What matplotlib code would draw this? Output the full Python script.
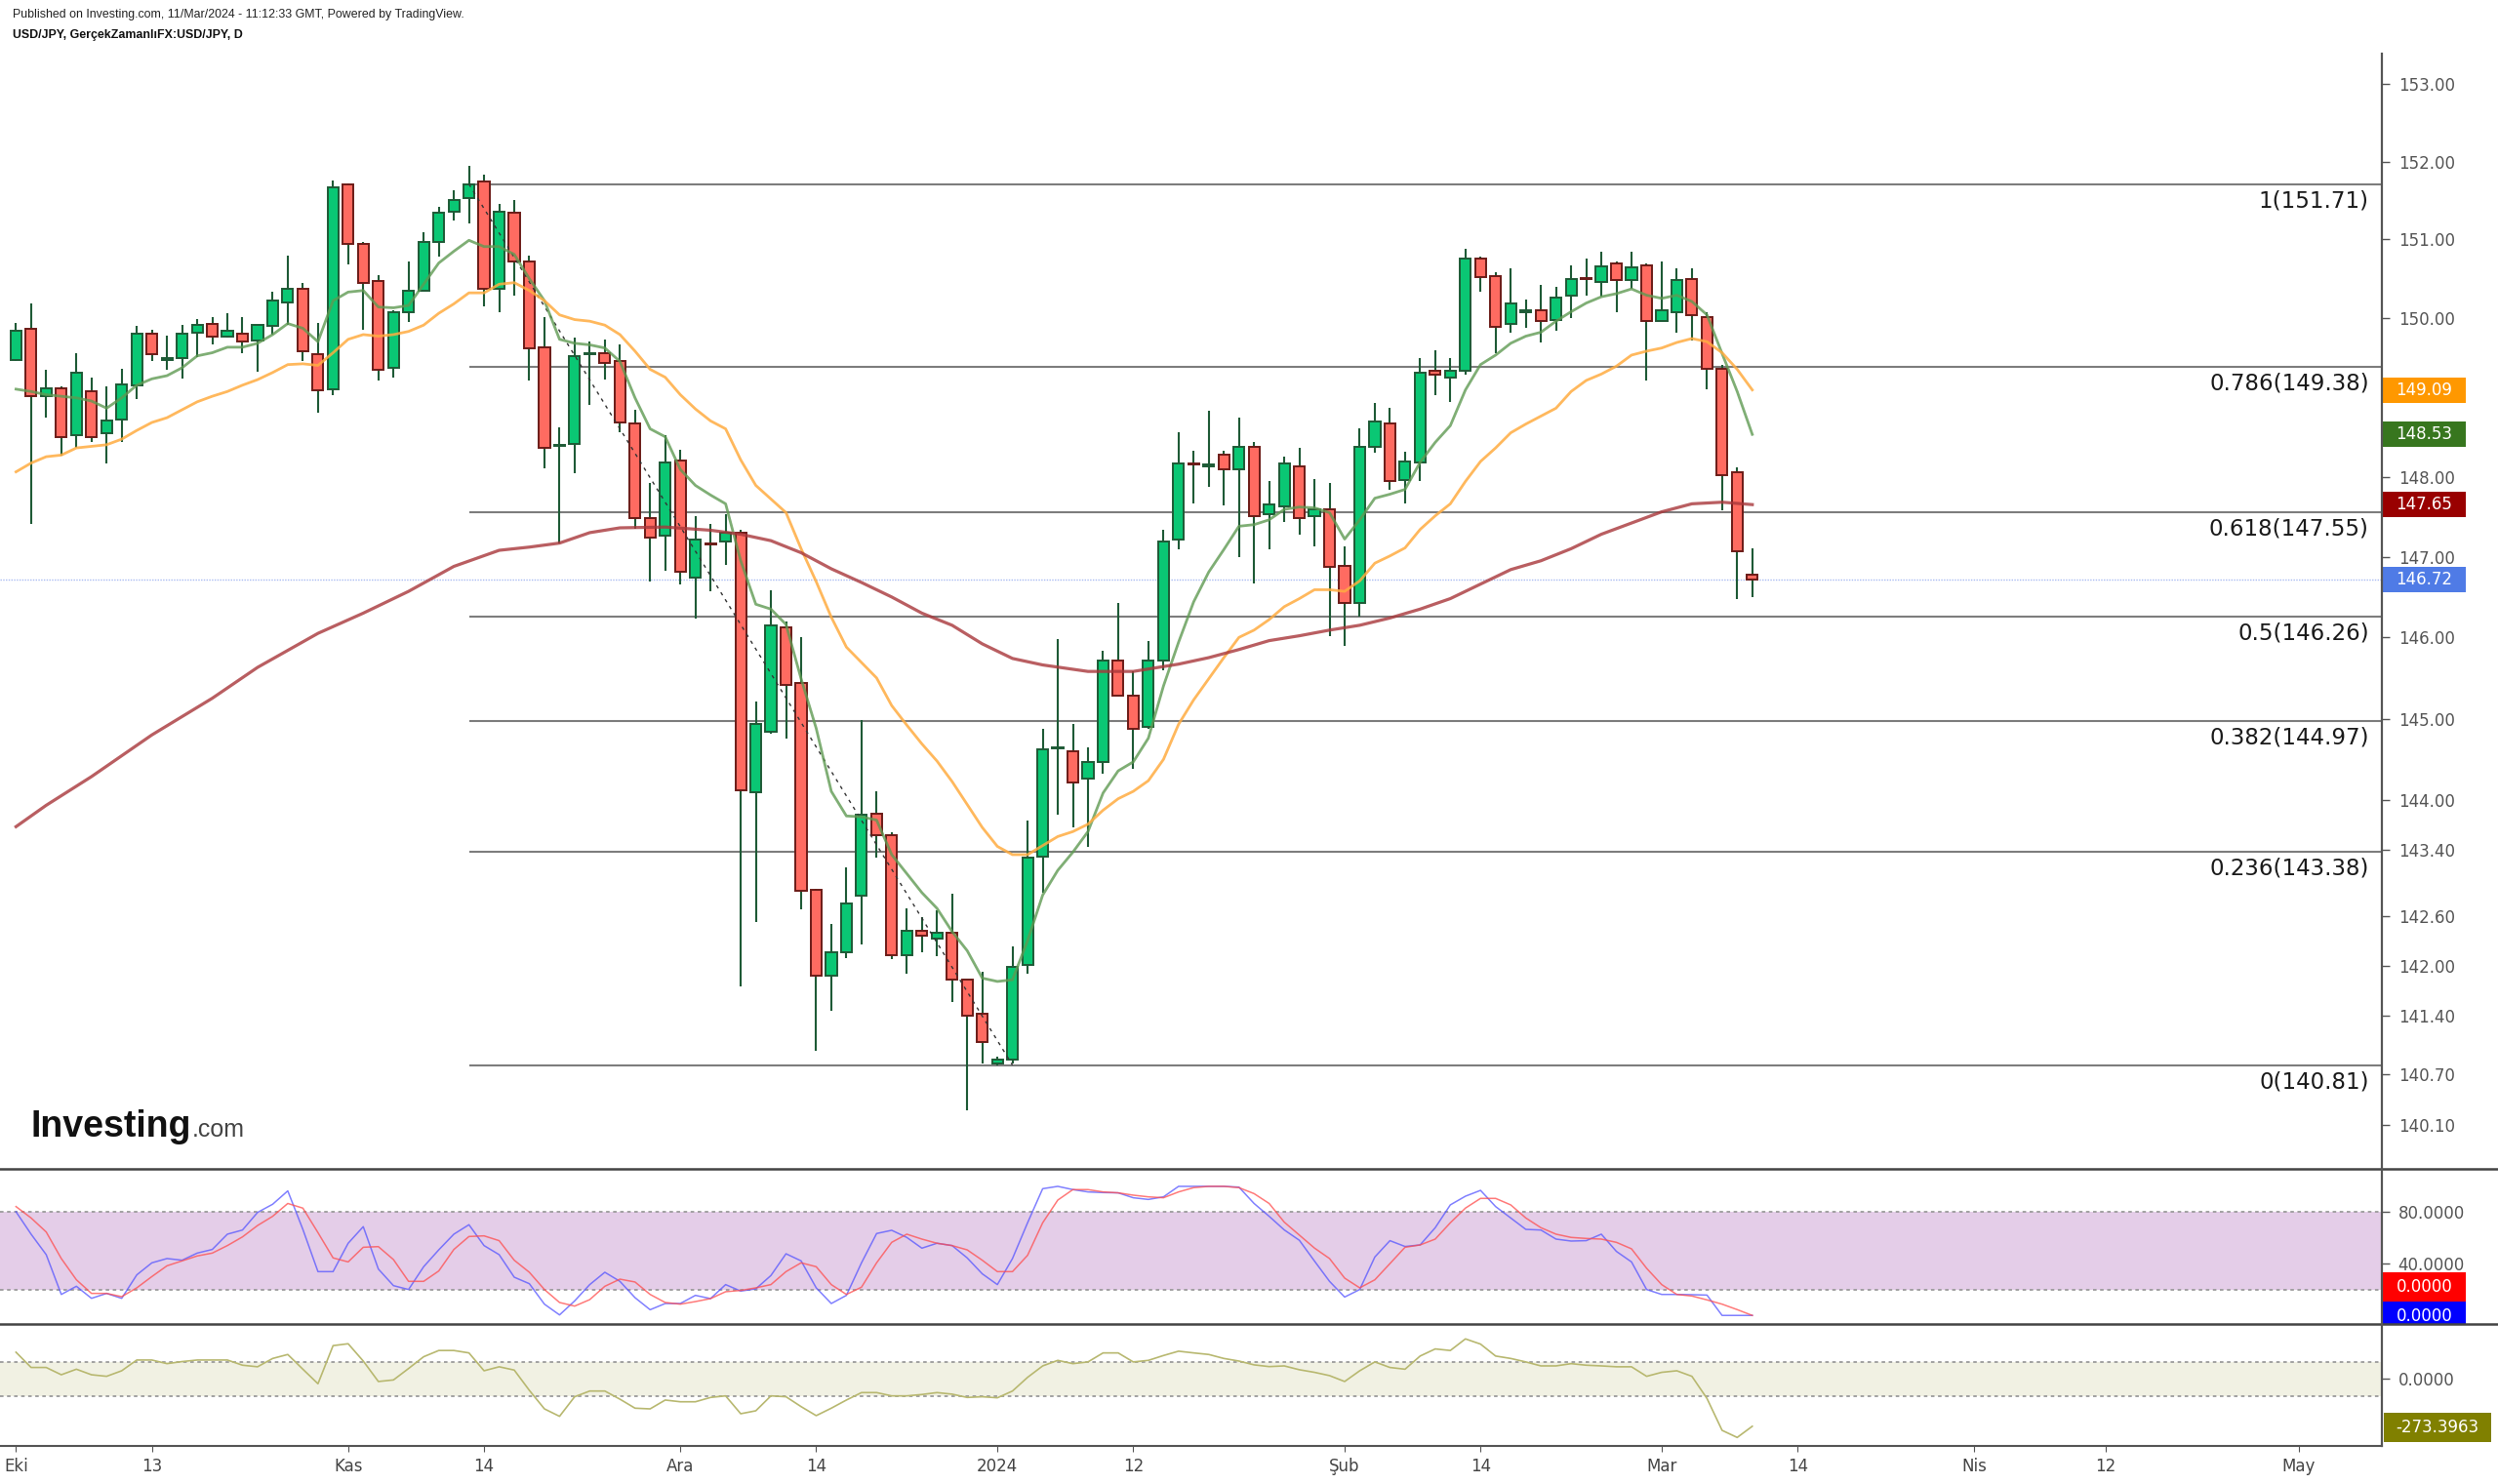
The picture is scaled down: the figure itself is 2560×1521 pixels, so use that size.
import matplotlib
matplotlib.use("Agg")
import matplotlib.pyplot as plt
import numpy as np
from matplotlib.patches import Rectangle
from matplotlib.lines import Line2D
from matplotlib.ticker import FixedLocator, NullLocator, FixedFormatter

# ---------------- DATA ----------------
opens = [149.47, 149.86, 149.01, 149.11, 148.52, 149.07, 148.54, 148.72, 149.15, 149.80,
         149.47, 149.49, 149.81, 149.93, 149.77, 149.80, 149.72, 149.90, 150.20, 150.37,
         149.54, 149.10, 151.71, 150.95, 150.47, 149.37, 150.07, 150.35, 150.97, 151.36,
         151.53, 151.74, 150.37, 151.34, 150.72, 149.63, 148.38, 148.41, 149.54, 149.56,
         149.45, 148.67, 147.48, 147.26, 148.20, 146.74, 147.17, 147.19, 147.30, 144.10,
         144.84, 146.13, 145.44, 142.91, 141.88, 142.16, 142.84, 143.84, 143.58, 142.12,
         142.42, 142.33, 142.40, 141.83, 141.42, 140.83, 140.88, 142.01, 143.31, 144.63,
         144.60, 144.27, 144.47, 145.71, 145.28, 144.90, 145.71, 147.21, 148.17, 148.13,
         148.28, 148.09, 148.37, 147.53, 147.63, 148.13, 147.51, 147.59, 146.89, 146.42,
         148.37, 148.67, 147.96, 148.18, 149.33, 149.24, 149.33, 150.76, 150.53, 149.92,
         150.08, 150.10, 149.98, 150.28, 150.51, 150.46, 150.69, 150.48, 150.67, 149.96,
         150.08, 150.50, 150.01, 149.36, 148.05, 146.78]
highs = [149.94, 150.19, 149.34, 149.13, 149.55, 149.25, 149.13, 149.36, 149.90, 149.85,
         149.78, 149.91, 149.99, 150.01, 150.06, 150.01, 149.91, 150.33, 150.79, 150.45,
         149.94, 151.76, 151.72, 150.97, 150.54, 150.10, 150.72, 151.09, 151.42, 151.63,
         151.95, 151.83, 151.46, 151.51, 150.79, 150.01, 148.62, 149.75, 149.70, 149.73,
         149.67, 148.84, 147.92, 148.52, 148.34, 147.51, 147.41, 147.53, 147.33, 145.21,
         146.58, 146.20, 146.00, 142.92, 142.50, 143.19, 144.98, 144.11, 143.61, 142.69,
         142.58, 142.67, 142.87, 141.83, 141.93, 140.91, 142.23, 143.76, 144.87, 145.98,
         144.94, 144.65, 145.83, 146.43, 145.58, 145.96, 147.33, 148.56, 148.32, 148.83,
         148.32, 148.74, 148.43, 147.94, 148.25, 148.36, 147.97, 147.92, 147.13, 148.61,
         148.92, 148.86, 148.31, 149.49, 149.59, 149.49, 150.88, 150.78, 150.58, 150.63,
         150.23, 150.42, 150.40, 150.67, 150.76, 150.84, 150.72, 150.84, 150.69, 150.72,
         150.63, 150.63, 150.08, 149.40, 148.12, 147.10]
lows = [149.45, 147.41, 148.74, 148.26, 148.36, 148.44, 148.17, 148.44, 148.97, 149.46,
        149.34, 149.23, 149.50, 149.66, 149.75, 149.55, 149.32, 149.79, 149.91, 149.46,
        148.80, 149.03, 150.68, 149.85, 149.21, 149.25, 149.95, 150.35, 150.78, 151.24,
        151.21, 150.15, 150.07, 150.29, 149.21, 148.11, 147.16, 148.04, 148.90, 149.22,
        148.56, 147.35, 146.69, 146.83, 146.66, 146.23, 146.57, 146.90, 141.75, 142.53,
        144.82, 144.75, 142.68, 140.98, 141.46, 142.09, 142.26, 143.30, 142.08, 141.90,
        142.16, 142.11, 141.56, 140.27, 140.83, 140.81, 140.83, 141.90, 142.88, 143.83,
        143.67, 143.44, 144.33, 145.28, 144.38, 144.88, 145.59, 147.09, 147.66, 147.87,
        147.64, 147.00, 146.67, 147.09, 147.43, 147.27, 147.13, 146.01, 145.89, 146.26,
        148.30, 147.84, 147.66, 147.95, 149.03, 148.94, 149.28, 150.34, 149.55, 149.82,
        149.87, 149.69, 149.84, 150.00, 150.29, 150.27, 150.07, 150.37, 149.21, 149.96,
        149.82, 149.71, 149.10, 147.58, 146.47, 146.50]
closes = [149.84, 149.01, 149.11, 148.50, 149.31, 148.50, 148.71, 149.16, 149.80, 149.54,
          149.49, 149.80, 149.91, 149.77, 149.84, 149.70, 149.91, 150.22, 150.37, 149.58,
          149.09, 151.67, 150.94, 150.44, 149.35, 150.07, 150.35, 150.97, 151.34, 151.51,
          151.71, 150.37, 151.36, 150.72, 149.61, 148.36, 148.40, 149.52, 149.56, 149.43,
          148.68, 147.48, 147.24, 148.18, 146.81, 147.21, 147.15, 147.30, 144.12, 144.93,
          146.15, 145.41, 142.90, 141.88, 142.16, 142.75, 143.82, 143.58, 142.12, 142.42,
          142.36, 142.40, 141.83, 141.40, 141.08, 140.88, 141.99, 143.30, 144.62, 144.65,
          144.22, 144.47, 145.71, 145.28, 144.88, 145.71, 147.19, 148.16, 148.15, 148.15,
          148.09, 148.37, 147.51, 147.65, 148.16, 147.48, 147.59, 146.87, 146.42, 148.37,
          148.69, 147.94, 148.19, 149.31, 149.28, 149.33, 150.76, 150.52, 149.89, 150.19,
          150.10, 149.96, 150.26, 150.49, 150.49, 150.66, 150.48, 150.65, 149.96, 150.10,
          150.48, 150.04, 149.36, 148.02, 147.07, 146.72]

ma_fast = [149.10, 149.07, 149.03, 149.01, 148.99, 148.95, 148.86, 148.99, 149.15, 149.23,
           149.27, 149.37, 149.52, 149.56, 149.63, 149.63, 149.68, 149.79, 149.93, 149.87,
           149.70, 150.22, 150.33, 150.35, 150.14, 150.13, 150.16, 150.43, 150.70, 150.85,
           150.99, 150.91, 150.91, 150.81, 150.50, 150.22, 149.73, 149.68, 149.66, 149.62,
           149.45, 148.99, 148.60, 148.50, 148.09, 147.89, 147.77, 147.66, 146.95, 146.41,
           146.35, 146.16, 145.49, 144.88, 144.11, 143.81, 143.80, 143.76, 143.34, 143.11,
           142.88, 142.69, 142.41, 142.18, 141.85, 141.81, 141.83, 142.30, 142.85, 143.15,
           143.37, 143.62, 144.09, 144.36, 144.47, 144.76, 145.40, 145.94, 146.44, 146.81,
           147.09, 147.38, 147.40, 147.46, 147.59, 147.62, 147.61, 147.55, 147.22, 147.46,
           147.73, 147.78, 147.84, 148.18, 148.43, 148.64, 149.09, 149.41, 149.53, 149.68,
           149.77, 149.82, 149.96, 150.08, 150.19, 150.27, 150.31, 150.37, 150.29, 150.25,
           150.29, 150.21, 150.04, 149.55, 149.07, 148.53]
ma_mid = [148.06, 148.17, 148.25, 148.27, 148.36, 148.38, 148.40, 148.47, 148.58, 148.68,
          148.74, 148.84, 148.94, 149.01, 149.07, 149.15, 149.22, 149.31, 149.41, 149.42,
          149.40, 149.56, 149.73, 149.79, 149.77, 149.79, 149.83, 149.91, 150.06, 150.18,
          150.32, 150.32, 150.43, 150.45, 150.35, 150.22, 150.04, 149.98, 149.96, 149.91,
          149.79, 149.58, 149.35, 149.25, 149.03, 148.85, 148.70, 148.60, 148.21, 147.89,
          147.72, 147.55, 147.10, 146.69, 146.25, 145.88, 145.69, 145.50, 145.16, 144.92,
          144.69, 144.48, 144.23, 143.95, 143.67, 143.44, 143.34, 143.34, 143.45, 143.56,
          143.62, 143.71, 143.88, 144.02, 144.11, 144.24, 144.50, 144.93, 145.23, 145.49,
          145.75, 146.00, 146.09, 146.22, 146.38, 146.48, 146.59, 146.59, 146.57, 146.70,
          146.92, 147.01, 147.11, 147.34, 147.51, 147.66, 147.94, 148.19, 148.36, 148.55,
          148.66, 148.76, 148.86, 149.07, 149.21, 149.29, 149.39, 149.53, 149.58, 149.62,
          149.69, 149.74, 149.70, 149.56, 149.35, 149.09]
ma_slow_idx = [0, 2, 5, 9, 13, 16, 20, 23, 26, 29, 32, 34, 36, 38, 40, 43, 46, 48, 50, 52,
               54, 56, 58, 60, 62, 64, 66, 68, 71, 74, 77, 79, 81, 83, 85, 87, 89, 91, 93,
               95, 97, 99, 101, 103, 105, 107, 109, 111, 113, 115]
ma_slow = [143.68, 143.94, 144.29, 144.80, 145.25, 145.63, 146.05, 146.30, 146.57, 146.88,
           147.08, 147.12, 147.17, 147.30, 147.36, 147.37, 147.33, 147.28, 147.20, 147.05,
           146.85, 146.68, 146.50, 146.30, 146.15, 145.92, 145.74, 145.66, 145.58, 145.58,
           145.67, 145.75, 145.85, 145.96, 146.02, 146.09, 146.15, 146.24, 146.35, 146.48,
           146.66, 146.84, 146.95, 147.10, 147.28, 147.42, 147.56, 147.66, 147.68, 147.65]

stoch_k = [80, 62.7, 46.9, 16.2, 22.5, 13.2, 17, 13.2, 31.3, 40.6, 43.9, 42.6, 48.1, 50.9,
           62.7, 65.9, 79.5, 85.8, 96.1, 66.4, 33.8, 33.8, 55.7, 68.5, 35.8, 23, 20, 37.6,
           50.6, 62.7, 70, 53.9, 46.9, 29.5, 24.5, 8.7, 0.4, 11.2, 23.8, 33.3, 26.3, 13.7,
           4.4, 9.2, 9.2, 15.5, 13, 23.8, 18.8, 20.5, 30.8, 47.6, 42.1, 21.3, 9.2, 15.5, 40.6,
           63.2, 65.7, 60.2, 51.9, 55.7, 53.9, 44.4, 32.1, 23.8, 43.9, 71.5, 97.8, 99.6, 97.1,
           95.3, 94.8, 94.6, 90.8, 89.5, 91.5, 99.6, 99.6, 99.6, 99.6, 99, 86.4, 76.5, 66, 58,
           42, 26.3, 14.2, 20, 45.1, 57.7, 53.2, 54.4, 67.7, 85.3, 92, 96.5, 84, 75.2, 66.4,
           65.9, 58.9, 57.4, 57.7, 62.7, 49.4, 41.3, 20, 16.2, 16.2, 16, 15.7, 0.0, 0.0, 0.0]
stoch_d = [84, 75.2, 64.4, 43.9, 27.5, 17, 17, 14.5, 21.3, 30, 38.3, 42.1, 45.9, 48.1, 53.9,
           60.6, 69.4, 76.5, 86.4, 82.8, 63.9, 44.4, 41.3, 52.6, 53.1, 43.1, 26.3, 26.3, 34.3,
           50.9, 60.9, 61.4, 57.7, 42.6, 33.3, 20, 10, 7.2, 12.2, 22.5, 28, 25.8, 16.2, 10,
           8.7, 10.7, 13, 18.3, 19.3, 21.3, 23.8, 33.8, 40.6, 37.6, 23.8, 16.2, 21.8, 40.6,
           56.4, 62.7, 58.9, 55.7, 53.9, 50.6, 42.6, 33.8, 33.8, 46.4, 71.5, 89, 97.1, 97.1,
           95.3, 94.6, 92.8, 91.5, 90.8, 95.3, 98.6, 99.6, 99.6, 98.6, 94, 86.4, 72, 62, 52,
           43.9, 28.8, 21.3, 27.5, 40, 52.6, 54.4, 58.9, 71.5, 82.8, 90.3, 90.3, 85.3, 75.2,
           67.7, 62.7, 60.2, 59.4, 58.9, 56.4, 51.4, 36.4, 23.8, 16.2, 15, 12, 8.7, 4.5, 0.0]
cci = [154, 66, 66, 24, 56, 24, 15, 47, 109, 109, 88, 100, 109, 109, 109, 79, 70, 118, 141,
       56, -28, 192, 203, 103, -15, -6, 60, 128, 164, 164, 150, 47, 70, 51, -66, -173, -216,
       -103, -70, -70, -117, -169, -173, -122, -132, -132, -107, -98, -201, -184, -98, -103,
       -160, -212, -169, -122, -79, -79, -98, -98, -90, -79, -88, -107, -103, -109, -70, 9,
       75, 107, 88, 98, 150, 150, 98, 107, 135, 160, 150, 141, 118, 103, 81, 71, 75, 53, 38,
       19, -15, 47, 98, 66, 56, 132, 173, 164, 231, 201, 132, 118, 98, 75, 75, 88, 79, 75,
       70, 70, 15, 38, 47, 15, -113, -297, -338, -273.3963]

fib_ratios = ["1", "0.786", "0.618", "0.5", "0.382", "0.236", "0"]
fib_prices = [151.71, 149.38, 147.55, 146.26, 144.97, 143.38, 140.81]
fib_start_idx = 30
trend_idx = [30, 66]
trend_prices = [151.71, 140.81]
last_price = 146.72

price_ticks = [153.00, 152.00, 151.00, 150.00, 148.00, 147.00, 146.00, 145.00, 144.00,
               143.40, 142.60, 142.00, 141.40, 140.70, 140.10]
x_tick_labels = ["Eki", "13", "Kas", "14", "Ara", "14", "2024", "12", "Şub", "14",
                 "Mar", "14", "Nis", "12", "May"]
x_tick_pos = [0, 9, 22, 31, 44, 53, 65, 74, 88, 97, 109, 118, 129.7, 138.4, 151.2]

# ---------------- LAYOUT ----------------
W, H = 2560, 1521
DPI = 100
fig = plt.figure(figsize=(W / DPI, H / DPI), dpi=DPI, facecolor="white")
plt.rcParams["font.family"] = ["DejaVu Sans"]

AX_R = 2441  # px of price axis
def fx(px):
    return px / W
def fy(py):
    return 1 - py / H

XL = (-1.06, 156.7)
ax = fig.add_axes([0, fy(1197), fx(AX_R), (1197 - 49) / H])
ax2 = fig.add_axes([0, fy(1357), fx(AX_R), (1357 - 1198) / H], sharex=ax)
ax3 = fig.add_axes([0, fy(1482), fx(AX_R), (1482 - 1357) / H], sharex=ax)

for a in (ax, ax2, ax3):
    for s in a.spines.values():
        s.set_visible(False)
    a.set_facecolor("none")
    a.yaxis.tick_right()
    a.tick_params(axis="y", colors="#555555", labelcolor="#555555", length=6, width=1,
                  labelsize=12, pad=6)
    a.set_xlim(*XL)

# ---------------- PRICE PANEL ----------------
ax.set_yscale("log")
ax.set_ylim(139.59, 153.47)
ax.yaxis.set_major_locator(FixedLocator(price_ticks))
ax.yaxis.set_major_formatter(FixedFormatter(["%.2f" % t for t in price_ticks]))
ax.yaxis.set_minor_locator(NullLocator())
ax.tick_params(axis="x", bottom=False, labelbottom=False)

idx = np.arange(len(opens))
o = np.array(opens); h = np.array(highs); l = np.array(lows); c = np.array(closes)

# fib lines
for r, p in zip(fib_ratios, fib_prices):
    ax.plot([fib_start_idx, XL[1]], [p, p], color="#7d7d7d", lw=1.5, zorder=2,
            solid_capstyle="butt")
    ax.annotate("%s(%.2f)" % (r, p), xy=(155.85, p), xytext=(0, -4), textcoords="offset points",
                ha="right", va="top", fontsize=16.5, color="#1a1a1a", zorder=6)

ax.plot(trend_idx, trend_prices, color="#333333", lw=1.0, ls=(0, (2.5, 3.5)), zorder=5)
ax.axhline(last_price, color="#a9bbf2", lw=1.0, ls=(0, (1, 1)), zorder=2)

# candles
ax.vlines(idx, l, h, color="#1e5a36", lw=1.5, zorder=3)
for i in idx:
    up = c[i] >= o[i]
    lo, hi = min(o[i], c[i]), max(o[i], c[i])
    fc = "#0ac774" if up else "#ff6b61"
    ec = "#1e5a36" if up else "#6b1b17"
    ax.add_patch(Rectangle((i - 0.36, lo), 0.72, max(hi - lo, 0.005), facecolor=fc,
                           edgecolor=ec, lw=1.4, zorder=4))

# moving averages
ax.plot(idx, ma_fast, color="#5f9a52", lw=2.0, alpha=0.8, zorder=5)
ax.plot(idx, ma_mid, color="#ffac40", lw=2.0, alpha=0.85, zorder=5)
ax.plot(ma_slow_idx, ma_slow, color="#a8363a", lw=2.3, alpha=0.8, zorder=5)

# ---------------- STOCH RSI ----------------
ax2.set_ylim(-6.6, 113.1)
ax2.axhspan(20, 80, color="#e4cde8", zorder=0, lw=0)
for v in (20, 80):
    ax2.axhline(v, color="#9b9b9b", lw=1.3, ls=(0, (2, 2)), zorder=1)
ax2.plot(idx, stoch_k, color="#5555ff", lw=1.1, alpha=0.75, zorder=3)
ax2.plot(idx, stoch_d, color="#ff4d4d", lw=1.1, alpha=0.75, zorder=3)
ax2.set_yticks([80, 40])
ax2.set_yticklabels(["80.0000", "40.0000"])
ax2.tick_params(axis="x", bottom=False, labelbottom=False)

# ---------------- CCI ----------------
ax3.set_ylim(-387, 317)
ax3.axhspan(-100, 100, color="#f1f1e3", zorder=0, lw=0)
for v in (-100, 100):
    ax3.axhline(v, color="#9b9b9b", lw=1.3, ls=(0, (2, 2)), zorder=1)
ax3.plot(idx, cci, color="#b8b870", lw=1.2, zorder=3)
ax3.set_yticks([0])
ax3.set_yticklabels(["0.0000"])
ax3.set_xticks(x_tick_pos)
ax3.set_xticklabels(x_tick_labels)
ax3.tick_params(axis="x", colors="#555555", labelcolor="#444444", length=4, labelsize=12,
                pad=5)
ax3.spines["bottom"].set_visible(True)
ax3.spines["bottom"].set_color("#555555")
ax3.spines["bottom"].set_linewidth(1.5)

# ---------------- badges ----------------
def badge_px(yc, text, color, x0=AX_R + 1, w=85, hgt=26, tc="white", ty=None):
    fig.add_artist(Rectangle((fx(x0), fy(yc + hgt / 2)), w / W, hgt / H,
                             transform=fig.transFigure, facecolor=color, edgecolor="none",
                             zorder=9))
    fig.text(fx(x0 + w / 2), fy(yc if ty is None else ty), text, ha="center", va="center",
             color=tc, fontsize=12, zorder=10)

def ypx_of(a, v):
    return H - a.transData.transform((0, v))[1]

badge_px(ypx_of(ax, ma_mid[-1]), "%.2f" % ma_mid[-1], "#ff9800")
badge_px(ypx_of(ax, ma_fast[-1]), "%.2f" % ma_fast[-1], "#37761e")
badge_px(ypx_of(ax, ma_slow[-1]), "%.2f" % ma_slow[-1], "#990000")
badge_px(ypx_of(ax, last_price), "%.2f" % last_price, "#4f7be6")
badge_px(1319, "%.4f" % stoch_d[-1], "#ff0000", hgt=30)
badge_px(1345.5, "%.4f" % stoch_k[-1], "#0000ff", hgt=23, ty=1349)
badge_px(1463, "%.4f" % cci[-1], "#808000", x0=2443, w=110, hgt=30)

# ---------------- separators / axis line ----------------
for ypx in (1197.5, 1357):
    fig.add_artist(Line2D([0, 1], [fy(ypx), fy(ypx)], transform=fig.transFigure,
                          color="#444444", lw=1.8, zorder=12))
fig.add_artist(Line2D([fx(AX_R), fx(AX_R)], [fy(55), fy(1482)], transform=fig.transFigure,
                      color="#555555", lw=1.6, zorder=12))

# ---------------- header / logo ----------------
fig.text(fx(13), fy(15), "Published on Investing.com, 11/Mar/2024 - 11:12:33 GMT, Powered by TradingView.",
         ha="left", va="center", fontsize=8.9, color="#222222", family="Liberation Sans")
fig.text(fx(13), fy(36), "USD/JPY, GerçekZamanlıFX:USD/JPY, D", ha="left", va="center",
         fontsize=8.9, color="#111111", family="Liberation Sans", weight="bold")
fig.text(fx(32), fy(1165), "Investing", ha="left", va="baseline", fontsize=27,
         color="#111111", family="Liberation Sans", weight="bold")
fig.text(fx(197), fy(1165), ".com", ha="left", va="baseline", fontsize=18,
         color="#444444", family="Liberation Sans")

fig.savefig("out.png", dpi=DPI, facecolor="white")
